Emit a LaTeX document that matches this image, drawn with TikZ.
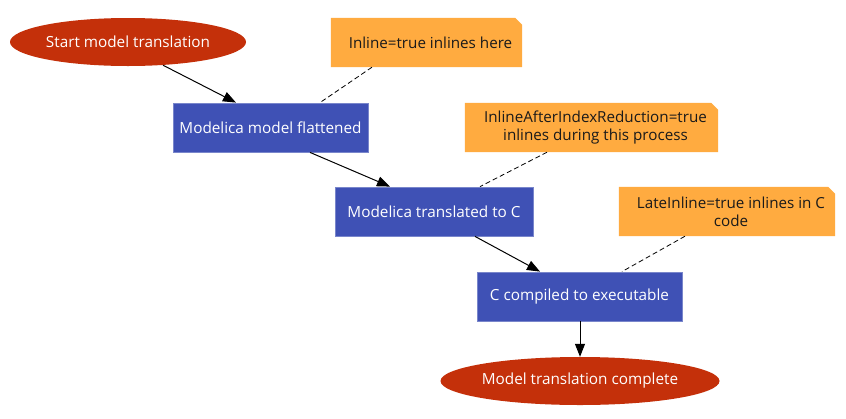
\documentclass[tikz,border=0pt]{standalone}
\usepackage{fontspec}
\setmainfont{Open Sans}
\usetikzlibrary{shapes.geometric,arrows.meta,backgrounds}
\definecolor{termred}{HTML}{C4300A}
\definecolor{procblue}{HTML}{3F51B5}
\definecolor{procedge}{HTML}{7986CB}
\definecolor{noteorange}{HTML}{FFAB40}
\definecolor{notetext}{HTML}{1A1A1A}
\tikzset{
  terminal/.style={ellipse, fill=termred, text=white, inner sep=0pt, minimum height=48pt, font=\fontsize{15.3}{18}\selectfont},
  proc/.style={rectangle, fill=procblue, draw=procedge, line width=0.8pt, text=white, inner sep=0pt, minimum height=49pt, font=\fontsize{15.3}{18}\selectfont},
  note/.style={rectangle, inner sep=0pt, minimum height=49pt, text=notetext, align=center, font=\fontsize{15.2}{18}\selectfont},
  flow/.style={line width=1pt, -{Triangle[length=13pt,width=10pt]}},
  noteline/.style={line width=0.8pt, dash pattern=on 5pt off 3pt},
}
\newcommand{\dogear}[1]{%
  \begin{scope}[on background layer]
  \fill[noteorange] ([xshift=-4pt]#1.south west) -- ([xshift=-4pt]#1.north west) -- ([xshift=-11pt]#1.north east) -- ([xshift=-4pt,yshift=-7pt]#1.north east) -- ([xshift=-4pt]#1.south east) -- cycle;
  \end{scope}}
\begin{document}
\begin{tikzpicture}[x=1pt,y=-1pt]
\useasboundingbox (0,0) rectangle (846,418);
\node[terminal, minimum width=236pt] (start) at (128,42) {Start model translation};
\node[proc, minimum width=195pt] (flat) at (270.5,127.5) {Modelica model flattened};
\node[proc, minimum width=198pt] (toc) at (434,211.5) {Modelica translated to C};
\node[proc, minimum width=205pt] (comp) at (579.5,296.5) {C compiled to executable};
\node[terminal, minimum width=279pt] (done) at (580,381) {Model translation complete};
\node[note, minimum width=191pt] (n1) at (430.5,42.5) {Inline=true inlines here};
\node[note, minimum width=253pt] (n2) at (595.5,127.5) {InlineAfterIndexReduction=true\\inlines during this process};
\node[note, minimum width=216pt] (n3) at (731,211.5) {LateInline=true inlines in C\\code};
\dogear{n1}\dogear{n2}\dogear{n3}
\draw[flow] ([xshift=35pt,yshift=1pt]start.south) -- ([xshift=-34.5pt]flat.north);
\draw[flow] ([xshift=39.5pt]flat.south) -- ([xshift=-44pt]toc.north);
\draw[flow] ([xshift=41pt]toc.south) -- ([xshift=-39.5pt]comp.north);
\draw[flow] ([xshift=0.5pt]comp.south) -- (done.north);
\draw[noteline] ([xshift=-58.5pt]n1.south) -- ([xshift=49.5pt]flat.north);
\draw[noteline] ([xshift=-48.5pt]n2.south) -- ([xshift=46pt]toc.north);
\draw[noteline] ([xshift=-46pt]n3.south) -- ([xshift=42.5pt]comp.north);
\end{tikzpicture}
\end{document}
